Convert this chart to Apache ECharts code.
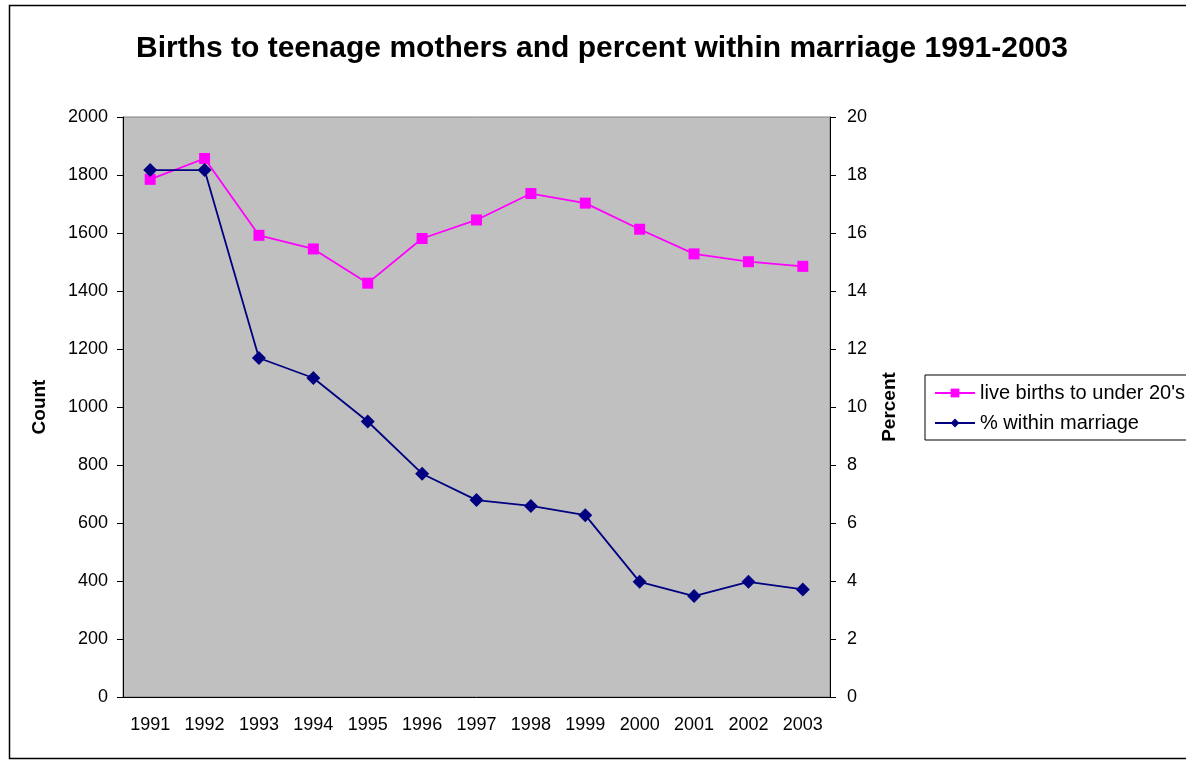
<!DOCTYPE html>
<html>
<head>
<meta charset="utf-8">
<script src="https://cdn.jsdelivr.net/npm/echarts@6/dist/echarts.min.js"></script>
<style>
  html, body { margin: 0; padding: 0; background: #fff; }
  #chart { width: 1186px; height: 761px; }
</style>
</head>
<body>
<div id="chart"></div>
<script>
const years = ['1991', '1992', '1993', '1994', '1995', '1996', '1997', '1998', '1999', '2000', '2001', '2002', '2003']
const liveBirths = [1785, 1857, 1592, 1545, 1427, 1581, 1645, 1736, 1703, 1613, 1528, 1501, 1485]
const withinMarriage = [18.17, 18.17, 11.69, 11.0, 9.5, 7.7, 6.79, 6.59, 6.27, 3.97, 3.48, 3.97, 3.71]

const font = '"Liberation Sans", Arial, sans-serif'

const chart = echarts.init(document.getElementById('chart'))
chart.setOption({
  animation: false,
  textStyle: { fontFamily: font },
  graphic: [
    {
      type: 'rect',
      shape: { x: 9.5, y: 5.5, width: 1190, height: 753 },
      style: { fill: 'none', stroke: '#000', lineWidth: 1.5 },
      z: -1
    }
  ],
  title: {
    text: 'Births to teenage mothers and percent within marriage 1991-2003',
    left: 597,
    textAlign: 'center',
    top: 29,
    textStyle: { fontFamily: font, fontSize: 30, fontWeight: 'bold', color: '#000' }
  },
  legend: {
    orient: 'vertical',
    left: 925,
    top: 375,
    padding: [8, 6, 7, 9],
    itemGap: 10,
    itemWidth: 40,
    itemHeight: 11,
    borderColor: '#000',
    borderWidth: 1,
    textStyle: { fontFamily: font, fontSize: 20, color: '#000' },
    data: ['live births to under 20\'s', '% within marriage']
  },
  grid: {
    left: 123,
    right: 356,
    top: 117,
    bottom: 64,
    show: true,
    backgroundColor: '#c0c0c0',
    borderColor: '#808080',
    borderWidth: 1
  },
  xAxis: {
    type: 'category',
    data: years,
    boundaryGap: true,
    axisLine: { lineStyle: { color: '#000', width: 1 } },
    axisTick: { inside: true, length: 8, lineStyle: { color: '#000' } },
    axisLabel: { fontSize: 18, color: '#000', margin: 19, fontFamily: font }
  },
  yAxis: [
    {
      type: 'value',
      min: 0,
      max: 2000,
      interval: 200,
      name: 'Count',
      nameLocation: 'middle',
      nameRotate: 90,
      nameGap: 74,
      nameTextStyle: { fontSize: 19, fontWeight: 'bold', color: '#000', fontFamily: font },
      axisLine: { show: true, lineStyle: { color: '#000' } },
      axisTick: { show: true, length: 6, lineStyle: { color: '#000' } },
      axisLabel: { fontSize: 18, color: '#000', margin: 15, fontFamily: font, formatter: v => String(v) },
      splitLine: { show: false }
    },
    {
      type: 'value',
      min: 0,
      max: 20,
      interval: 2,
      name: 'Percent',
      nameLocation: 'middle',
      nameRotate: 90,
      nameGap: 50,
      nameTextStyle: { fontSize: 19, fontWeight: 'bold', color: '#000', fontFamily: font },
      axisLine: { show: true, lineStyle: { color: '#000' } },
      axisTick: { show: true, length: 6, lineStyle: { color: '#000' } },
      axisLabel: { fontSize: 18, color: '#000', margin: 17, fontFamily: font },
      splitLine: { show: false }
    }
  ],
  series: [
    {
      name: 'live births to under 20\'s',
      type: 'line',
      yAxisIndex: 0,
      data: liveBirths,
      symbol: 'rect',
      symbolSize: 11,
      itemStyle: { color: '#ff00ff' },
      lineStyle: { color: '#ff00ff', width: 1.8 }
    },
    {
      name: '% within marriage',
      type: 'line',
      yAxisIndex: 1,
      data: withinMarriage,
      symbol: 'diamond',
      symbolSize: 14,
      itemStyle: { color: '#000080' },
      lineStyle: { color: '#000080', width: 1.8 }
    }
  ]
})
</script>
</body>
</html>
